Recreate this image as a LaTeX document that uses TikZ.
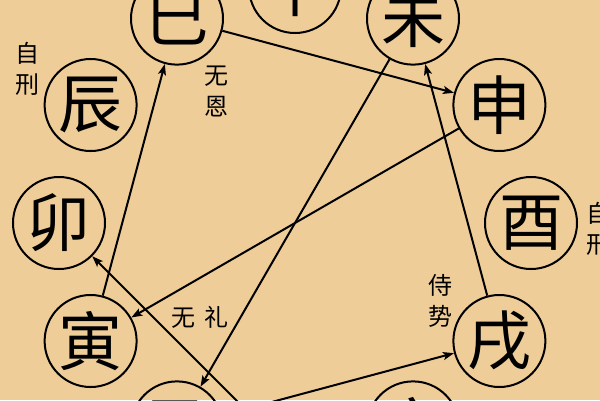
\documentclass[tikz,border=0pt]{standalone}
\usepackage{fontspec}
\newfontfamily\cjk{Noto Sans CJK SC}
\usetikzlibrary{arrows.meta,positioning}
\definecolor{paper}{HTML}{EFCD98}

\tikzset{
	branch/.style={draw,circle,minimum size=92pt,inner sep=0pt,font=\cjk\fontsize{64}{64}\selectfont},
	note/.style={align=center,inner sep=0pt,font=\cjk\fontsize{24}{31}\selectfont},
}

\begin{document}
\begin{tikzpicture}[>={Stealth[length=11pt,width=8pt,inset=2.5pt]},line width=2pt,x=1pt,y=1pt]
		\useasboundingbox (0,0) rectangle (600,-400);
		\fill[paper] (0,0) rectangle (600,-400);
		\coordinate (ctr) at (295,-223);
		\foreach \name/\ch/\ang in {wu/午/90,wei/未/60,shen/申/30,you/酉/0,xu/戌/-30,hai/亥/-60,chou/丑/-120,yin/寅/-150,mao/卯/180,chen/辰/150,si/巳/120}
			\node[branch] (\name) at ([shift={(\ang:236)}]ctr) {\ch};
		\coordinate (zi) at ([shift={(-90:236)}]ctr);

		\node[note] (xingl) at (27,-69) {自\\刑};
		\node[note] (wuen) at (216,-91) {无\\恩};
		\node[note] (xingr) at (598,-229) {自\\刑};
		\node[note] (shishi) at (440,-301) {侍\\势};
		\node[note] (wuli) at (200,-317) {无\hspace{9pt}礼};

		\draw[->] (si) -- (shen);
		\draw[->] (yin) -- (si);
		\draw[->] (wei) -- (chou);
		\draw[->] (shen) -- (yin);
		\draw[->] (chou) -- (xu);
		\draw[->] (xu) -- (wei);
		\draw[->] (zi) -- (mao);
	\end{tikzpicture}
\end{document}
